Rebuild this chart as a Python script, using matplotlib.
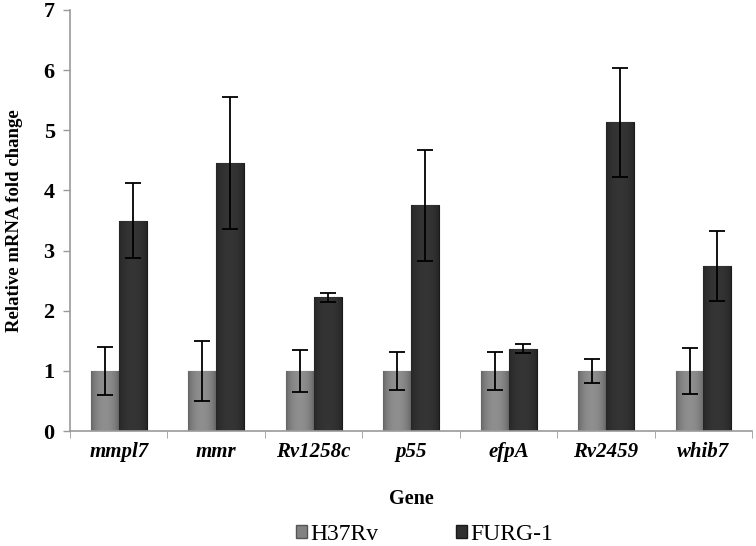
import numpy as np
import matplotlib
matplotlib.use("Agg")
import matplotlib.pyplot as plt
from matplotlib.patches import Patch
from matplotlib.ticker import MultipleLocator, FixedLocator

genes = ["mmpl7", "mmr", "Rv1258c", "p55", "efpA", "Rv2459", "whib7"]
h37rv = [1, 1, 1, 1, 1, 1, 1]
h37rv_err = [0.40, 0.50, 0.35, 0.32, 0.32, 0.20, 0.38]
furg = [3.50, 4.46, 2.22, 3.75, 1.37, 5.13, 2.74]
furg_err = [0.62, 1.10, 0.07, 0.92, 0.08, 0.90, 0.58]
series_names = ["H37Rv", "FURG-1"]

plt.rcParams['font.family'] = ['Liberation Serif', 'DejaVu Serif']

fig = plt.figure(figsize=(7.56, 5.46), dpi=100)
ax = fig.add_axes([0.0926, 0.2106, 0.9024, 0.7711])

x = np.arange(len(genes))
w = 0.287
colors = ["#828282", "#303030"]

def shade(bars, base):
    c = np.array(matplotlib.colors.to_rgb(base))
    t = np.linspace(0, 1, 64)
    prof = 0.75 + 0.35 * np.sin(np.pi * t) ** 0.6
    img = np.clip(c[None, :] * prof[:, None], 0, 1)[None, :, :]
    for b in bars:
        x0, y0 = b.get_x(), b.get_y()
        bw, bh = b.get_width(), b.get_height()
        im = ax.imshow(img, extent=(x0, x0 + bw, y0, y0 + bh), aspect='auto',
                       zorder=2, interpolation='bicubic')
        im.set_clip_path(b)

b1 = ax.bar(x - w / 2, h37rv, w, color=colors[0], edgecolor="#555555", linewidth=0.8, zorder=2)
b2 = ax.bar(x + w / 2, furg, w, color=colors[1], edgecolor="#1a1a1a", linewidth=0.8, zorder=2)
shade(b1, colors[0])
shade(b2, colors[1])
for b in list(b1) + list(b2):
    b.set_zorder(1)

ax.errorbar(x - w / 2, h37rv, yerr=h37rv_err, fmt='none', ecolor='black',
            elinewidth=1.3, capsize=6, capthick=1.3, zorder=4)
ax.errorbar(x + w / 2, furg, yerr=furg_err, fmt='none', ecolor='black',
            elinewidth=1.3, capsize=6, capthick=1.3, zorder=4)

ax.set_xlim(-0.5, len(genes) - 0.5)
ax.set_ylim(0, 7)
ax.yaxis.set_major_locator(MultipleLocator(1))
ax.set_xticks(x)
ax.set_xticklabels(genes, fontsize=15, fontweight='bold', fontstyle='italic')
ax.xaxis.set_minor_locator(FixedLocator(np.arange(-0.5, len(genes), 1.0)))
ax.tick_params(axis='x', which='major', length=0, pad=8)
ax.tick_params(axis='x', which='minor', length=5, color='#9a9a9a', direction='out')
ax.tick_params(axis='y', length=5, color='#9a9a9a', width=1, labelsize=16, pad=6)
for lab in ax.get_yticklabels():
    lab.set_fontweight('bold')

for s in ['top', 'right']:
    ax.spines[s].set_visible(False)
for s in ['left', 'bottom']:
    ax.spines[s].set_color('#9a9a9a')
    ax.spines[s].set_linewidth(1.2)

ax.set_ylabel("Relative mRNA fold change", fontsize=13.5, fontweight='bold', labelpad=15)
ax.set_xlabel("Gene", fontsize=14.5, fontweight='bold', labelpad=19)

handles = [Patch(facecolor=colors[0], edgecolor="#555555"),
           Patch(facecolor=colors[1], edgecolor="#1a1a1a")]
fig.legend(handles, series_names, loc='center', bbox_to_anchor=(0.562, 0.021), ncol=2,
           frameon=False, fontsize=17, handlelength=0.45, handleheight=0.45,
           handletextpad=0.15, columnspacing=3.3)

fig.savefig("out.png", dpi=100)
